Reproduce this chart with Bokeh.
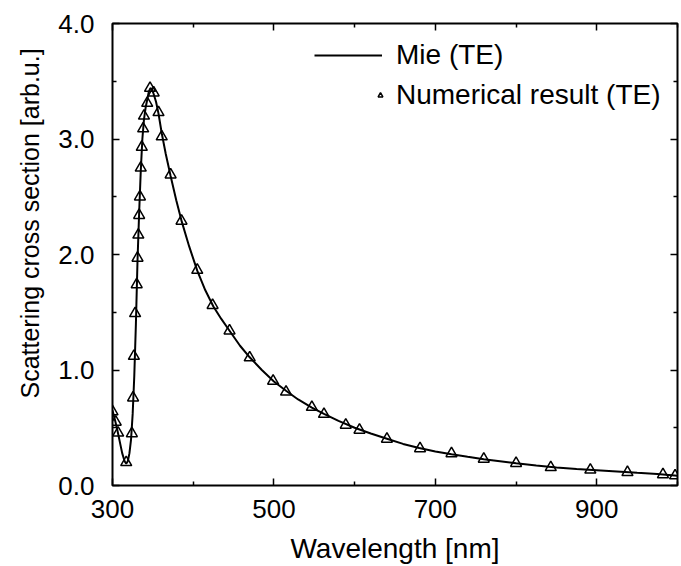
from bokeh.plotting import figure
from bokeh.models import (Range1d, FixedTicker, LinearAxis, Legend, LegendItem,
                          CustomJSTickFormatter, CustomLabelingPolicy, Title)
from bokeh.embed import file_html
from bokeh.resources import INLINE

# Mie (TE) curve
mie_x = [300, 303, 306, 309, 312, 315, 317, 319, 321, 323, 325, 327, 329, 331, 333, 335, 337, 339,
         341, 343, 345, 347, 349, 351, 354, 357, 361, 366, 372, 379, 386, 395, 405, 415, 425, 435,
         445, 458, 470, 485, 500, 515, 530, 547, 562, 580, 600, 620, 640, 660, 680, 700, 720, 740,
         760, 780, 800, 825, 850, 875, 900, 925, 950, 975, 1000]
mie_y = [0.65, 0.57, 0.48, 0.38, 0.28, 0.21, 0.19, 0.21, 0.28, 0.40, 0.62, 0.95, 1.40, 1.95, 2.36,
         2.72, 3.00, 3.17, 3.27, 3.34, 3.41, 3.44, 3.43, 3.39, 3.32, 3.22, 3.05, 2.87, 2.68, 2.47,
         2.28, 2.07, 1.86, 1.69, 1.55, 1.44, 1.34, 1.21, 1.11, 1.00, 0.90, 0.82, 0.745, 0.675, 0.62,
         0.56, 0.50, 0.45, 0.405, 0.36, 0.325, 0.295, 0.27, 0.248, 0.228, 0.21, 0.192, 0.173, 0.156,
         0.143, 0.132, 0.121, 0.110, 0.100, 0.085]

# Numerical result (TE)
num_x = [300, 304, 307, 317, 324, 325.5, 326.5, 328, 330, 331, 332, 333, 334, 335, 336.3, 338, 339,
         343, 346.5, 351, 357, 361, 372, 385.5, 405, 424, 445, 470, 499, 515, 547, 562, 589, 606,
         640, 681, 720, 760, 800, 843, 892, 938, 982, 997]
num_y = [0.64, 0.55, 0.455, 0.2, 0.45, 0.76, 1.12, 1.49, 1.74, 1.97, 2.17, 2.34, 2.50, 2.75, 2.93,
         3.09, 3.20, 3.31, 3.44, 3.40, 3.23, 3.02, 2.69, 2.29, 1.865, 1.56, 1.34, 1.107, 0.905, 0.81,
         0.678, 0.618, 0.524, 0.48, 0.403, 0.32, 0.277, 0.229, 0.192, 0.157, 0.135, 0.114, 0.095, 0.085]

x_major = [300, 500, 700, 900]
x_minor = [400, 600, 800, 1000]
y_major = [0, 1, 2, 3, 4]
y_minor = [0.5, 1.5, 2.5, 3.5]

FONT = "Liberation Sans"

p = figure(width=681, height=566, output_backend="svg", toolbar_location=None,
           x_range=Range1d(300, 1000), y_range=Range1d(0, 4),
           min_border_left=112, min_border_right=2, min_border_top=23, min_border_bottom=77,
           x_axis_label="Wavelength [nm]")
p.grid.visible = False
p.outline_line_color = "black"
p.outline_line_width = 2
p.background_fill_color = "white"
p.border_fill_color = "white"

fmt = CustomJSTickFormatter(code="return tick.toFixed(1);")

for ax, maj, mino in [(p.xaxis[0], x_major, x_minor), (p.yaxis[0], y_major, y_minor)]:
    ax.ticker = FixedTicker(ticks=maj, minor_ticks=mino)
    ax.axis_line_color = None
    ax.major_tick_in = 7
    ax.major_tick_out = 0
    ax.minor_tick_in = 4
    ax.minor_tick_out = 0
    ax.major_tick_line_width = 1.5
    ax.minor_tick_line_width = 1.5
    ax.major_label_text_font = FONT
    ax.major_label_text_font_size = "26px"
    ax.major_label_text_color = "black"
    ax.axis_label_text_font = FONT
    ax.axis_label_text_font_size = "28px"
    ax.axis_label_text_font_style = "normal"
    ax.axis_label_text_color = "black"
p.yaxis[0].formatter = fmt
p.yaxis[0].major_label_standoff = 18
p.xaxis[0].major_label_standoff = 14
p.xaxis[0].axis_label_standoff = 12

hide = CustomLabelingPolicy(code="const ids = [...indices]; for (const i of ids) indices.unset(i); return indices;")
top = LinearAxis(ticker=FixedTicker(ticks=x_major, minor_ticks=x_minor))
right = LinearAxis(ticker=FixedTicker(ticks=y_major, minor_ticks=y_minor))
for ax in (top, right):
    ax.axis_line_color = None
    ax.major_tick_in = 7
    ax.major_tick_out = 0
    ax.minor_tick_in = 4
    ax.minor_tick_out = 0
    ax.major_tick_line_width = 1.5
    ax.minor_tick_line_width = 1.5
    ax.major_label_text_font_size = "1px"
    ax.major_label_standoff = 0
    ax.major_label_policy = hide
p.add_layout(top, "above")
p.add_layout(right, "right")

ytitle = Title(text="Scattering cross section [arb.u.]", align="left", offset=87,
               text_font=FONT, text_font_size="25px", text_font_style="normal",
               text_color="black", standoff=23)
p.add_layout(ytitle, "left")

line_r = p.line(mie_x, mie_y, line_color="black", line_width=2)
pts_r = p.scatter(num_x, num_y, marker="triangle", size=11, line_color="black",
                  line_width=1.5, fill_alpha=0)

leg1 = Legend(items=[LegendItem(label="Mie (TE)", renderers=[line_r])],
              location=(202, 414), glyph_width=68, label_standoff=14,
              padding=0, margin=0, border_line_alpha=0, background_fill_alpha=0,
              label_text_font=FONT, label_text_font_size="28px", label_text_color="black")
leg2 = Legend(items=[LegendItem(label="Numerical result (TE)", renderers=[pts_r])],
              location=(262, 374), glyph_width=12, glyph_height=20, label_standoff=10,
              padding=0, margin=0, border_line_alpha=0, background_fill_alpha=0,
              label_text_font=FONT, label_text_font_size="28px", label_text_color="black")
p.add_layout(leg1, "center")
p.add_layout(leg2, "center")

open("out.html", "w").write(file_html(p, INLINE))
